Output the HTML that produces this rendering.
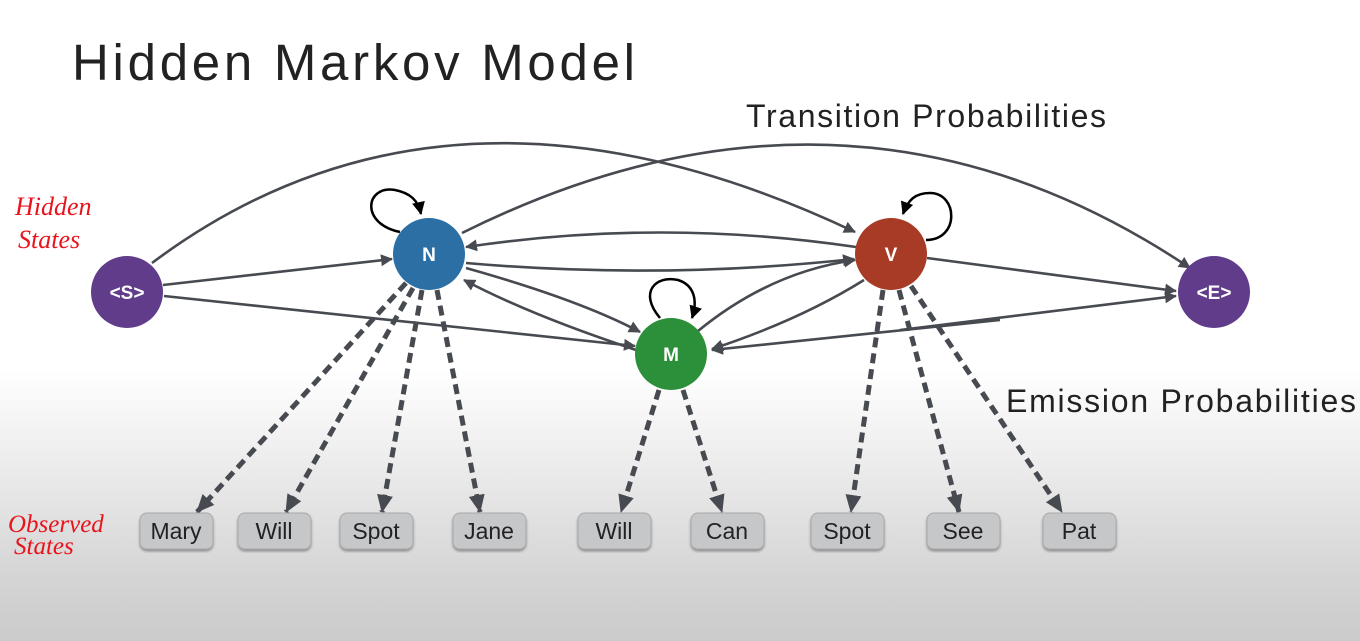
<!DOCTYPE html>
<html><head><style>
html,body{margin:0;padding:0}
body{width:1360px;height:641px;overflow:hidden;background:linear-gradient(#fff 0px,#fff 370px,#ebebeb 470px,#d4d4d4 580px,#cbcbcb 641px);font-family:"Liberation Sans",sans-serif}
svg{position:absolute;left:0;top:0}
</style></head><body>
<svg width="1360" height="641" viewBox="0 0 1360 641">
<defs>
<marker id="a" markerWidth="12" markerHeight="12" refX="11" refY="6" orient="auto" markerUnits="userSpaceOnUse"><path d="M0,0 L12,6 L0,12 z" fill="#474a50"/></marker>
<marker id="b" markerWidth="13" markerHeight="13" refX="12" refY="6.5" orient="auto" markerUnits="userSpaceOnUse"><path d="M0,0 L13,6.5 L0,13 z" fill="#000"/></marker>
<marker id="d" markerWidth="18" markerHeight="18" refX="17" refY="9" orient="auto" markerUnits="userSpaceOnUse"><path d="M0,1 L18,9 L0,17 z" fill="#474a50"/></marker>
<filter id="sh"><feDropShadow dx="0" dy="2" stdDeviation="1.2" flood-opacity="0.35"/></filter>
</defs>
<text x="72" y="80" font-size="51" fill="#222" letter-spacing="3" textLength="566" lengthAdjust="spacing">Hidden Markov Model</text>
<text x="746" y="127" font-size="32" fill="#222" textLength="360" lengthAdjust="spacing">Transition Probabilities</text>
<text x="1006" y="412" font-size="32" fill="#222" textLength="350" lengthAdjust="spacing">Emission Probabilities</text>
<text x="15" y="215" font-size="26" fill="#e8141c" font-style="italic" font-family="Liberation Serif">Hidden</text>
<text x="18" y="248" font-size="26" fill="#e8141c" font-style="italic" font-family="Liberation Serif">States</text>
<text x="8" y="532" font-size="25" fill="#e8141c" font-style="italic" font-family="Liberation Serif">Observed</text>
<text x="14" y="554" font-size="25" fill="#e8141c" font-style="italic" font-family="Liberation Serif">States</text>

<g fill="none" stroke="#474a50" stroke-width="2.6">
<path d="M152,263 Q450,40 855,232" marker-end="url(#a)"/>
<path d="M462,233 Q850,40 1190,268" marker-end="url(#a)"/>
<path d="M163,285 L392,259" marker-end="url(#a)"/>
<path d="M164,296 L635,346" marker-end="url(#a)"/>
<path d="M856,247 Q660,218 466,247" marker-end="url(#a)"/>
<path d="M466,263 Q660,280 854,259" marker-end="url(#a)"/>
<path d="M466,268 Q580,300 640,332" marker-end="url(#a)"/>
<path d="M636,350 Q530,315 464,280" marker-end="url(#a)"/>
<path d="M698,331 Q770,272 855,260" marker-end="url(#a)"/>
<path d="M864,280 Q800,320 712,349" marker-end="url(#a)"/>
<path d="M927,258 L1176,291" marker-end="url(#a)"/>
<path d="M1000,320 L712,350" marker-end="url(#a)"/>
<path d="M900,330 L1176,296" marker-end="url(#a)"/>
</g>
<g fill="none" stroke="#000" stroke-width="2.5">
<path d="M400,232 C360,224 365,185 395,190 C410,193 418,200 421,214" marker-end="url(#b)"/>
<path d="M660,318 C638,292 656,275 678,280 C694,285 698,300 692,318" marker-end="url(#b)"/>
<path d="M926,240 C960,240 958,193 930,193 C915,193 908,200 903,214" marker-end="url(#b)"/>
</g>
<g fill="none" stroke="#474a50" stroke-width="5" stroke-dasharray="10,6">
<path d="M406,283 L197,512" marker-end="url(#d)"/>
<path d="M413,288 L286,512" marker-end="url(#d)"/>
<path d="M422,290 L382,512" marker-end="url(#d)"/>
<path d="M437,290 L480,512" marker-end="url(#d)"/>
<path d="M659,390 L621,512" marker-end="url(#d)"/>
<path d="M683,390 L722,512" marker-end="url(#d)"/>
<path d="M883,290 L851,512" marker-end="url(#d)"/>
<path d="M899,290 L959,512" marker-end="url(#d)"/>
<path d="M911,286 L1062,512" marker-end="url(#d)"/>
</g>
<g font-weight="bold" fill="#fff" text-anchor="middle" font-size="19">
<circle cx="127" cy="292" r="36" fill="#603c8a"/><text x="127" y="299">&lt;S&gt;</text>
<circle cx="429" cy="254" r="36" fill="#2b6fa4"/><text x="429" y="261">N</text>
<circle cx="671" cy="354" r="36" fill="#2c8f3a"/><text x="671" y="361">M</text>
<circle cx="891" cy="254" r="36" fill="#a83b26"/><text x="891" y="261">V</text>
<circle cx="1214" cy="292" r="36" fill="#603c8a"/><text x="1214" y="299">&lt;E&gt;</text>
</g>
<g font-size="23" fill="#222" text-anchor="middle">
<g filter="url(#sh)" fill="#c6c7c9" stroke="#aaa" stroke-width="1">
<rect x="140" y="513" width="73" height="36" rx="7"/>
<rect x="238" y="513" width="73" height="36" rx="7"/>
<rect x="340" y="513" width="73" height="36" rx="7"/>
<rect x="453" y="513" width="73" height="36" rx="7"/>
<rect x="578" y="513" width="73" height="36" rx="7"/>
<rect x="691" y="513" width="73" height="36" rx="7"/>
<rect x="811" y="513" width="73" height="36" rx="7"/>
<rect x="927" y="513" width="73" height="36" rx="7"/>
<rect x="1043" y="513" width="73" height="36" rx="7"/>
</g>
<text x="176" y="539">Mary</text>
<text x="274" y="539">Will</text>
<text x="376" y="539">Spot</text>
<text x="489" y="539">Jane</text>
<text x="614" y="539">Will</text>
<text x="727" y="539">Can</text>
<text x="847" y="539">Spot</text>
<text x="963" y="539">See</text>
<text x="1079" y="539">Pat</text>
</g>
</svg>
</body></html>
